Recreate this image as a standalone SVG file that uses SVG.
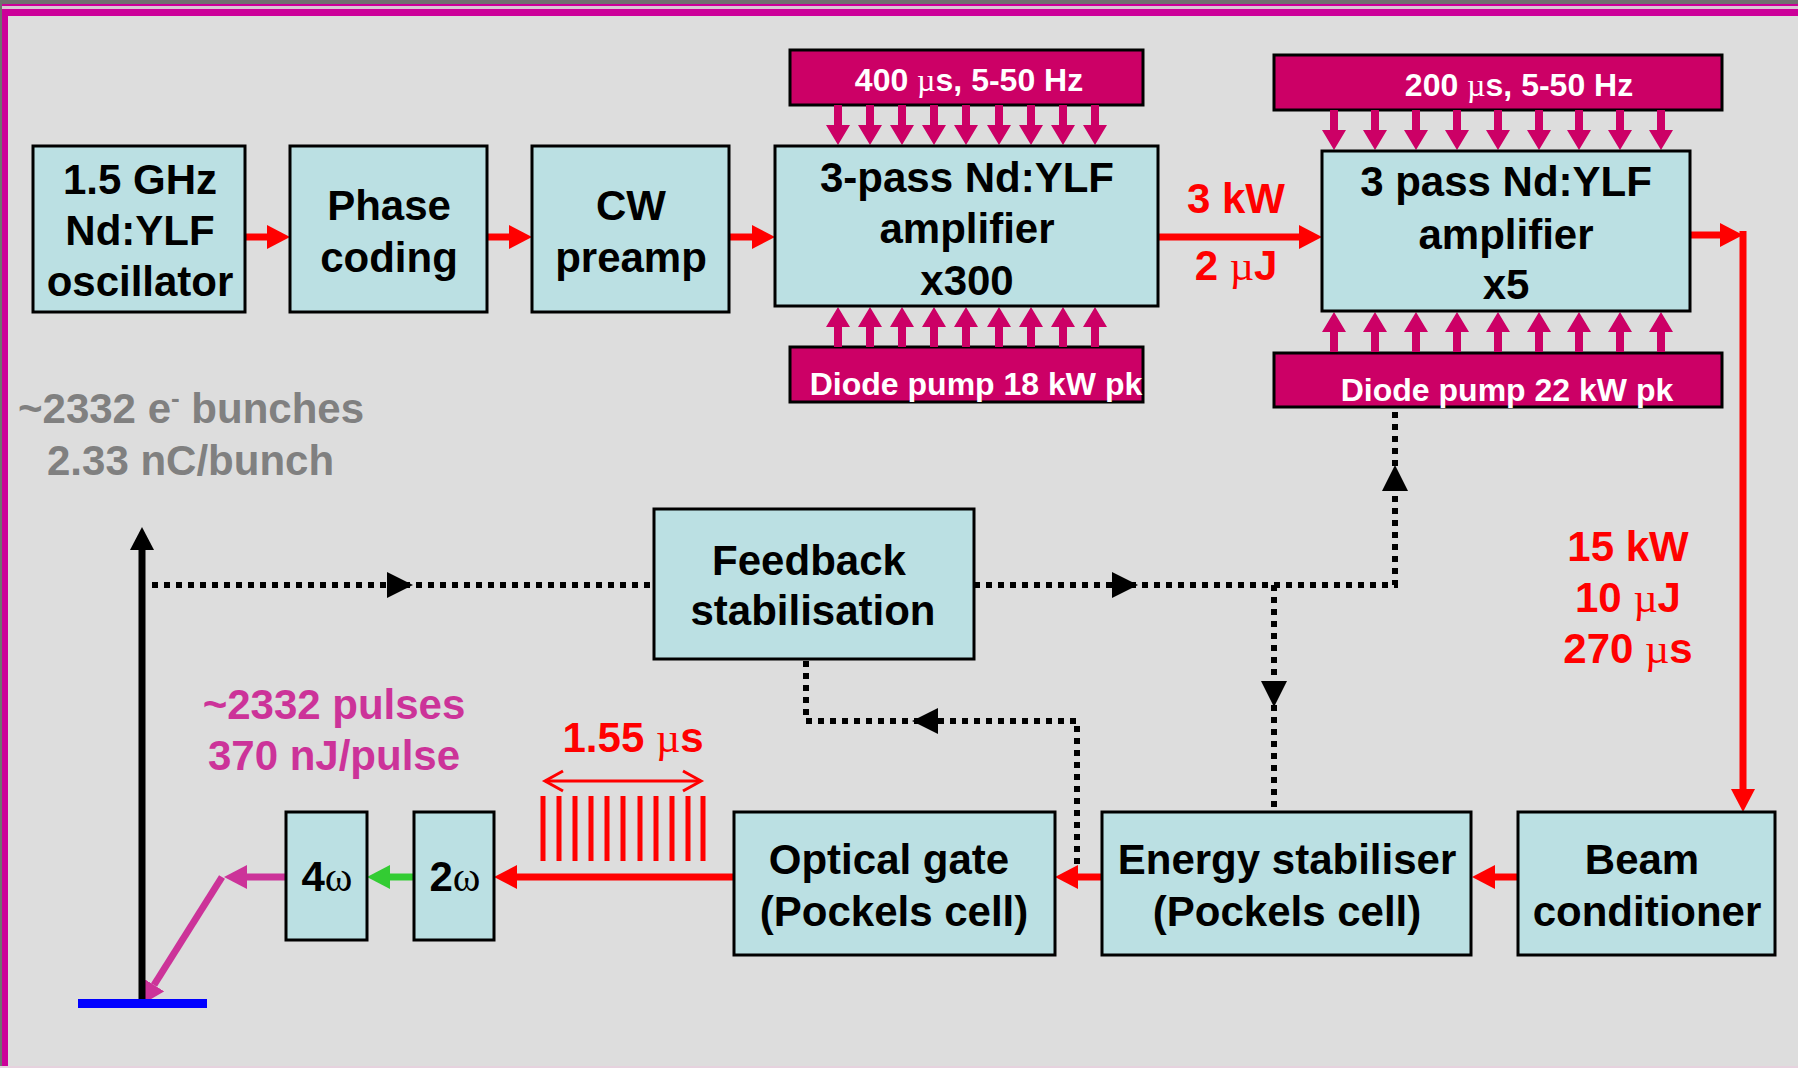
<svg xmlns="http://www.w3.org/2000/svg" width="1798" height="1068" viewBox="0 0 1798 1068">
<style>
.box{fill:#BBE0E3;stroke:#000;stroke-width:3}
.pump{fill:#CC0066;stroke:#000;stroke-width:3}
.t{font-family:"Liberation Sans",Arial,sans-serif;font-weight:bold;font-size:42px;text-anchor:middle;fill:#000}
.w{font-family:"Liberation Sans",Arial,sans-serif;font-weight:bold;font-size:32px;text-anchor:middle;fill:#fff}
.r{font-family:"Liberation Sans",Arial,sans-serif;font-weight:bold;font-size:42px;text-anchor:middle;fill:#FF0000}
.g{font-family:"Liberation Sans",Arial,sans-serif;font-weight:bold;font-size:42px;fill:#808080}
.m{font-family:"Liberation Sans",Arial,sans-serif;font-weight:bold;font-size:42px;text-anchor:middle;fill:#CC3399}
.sym{font-family:"Liberation Serif","Times New Roman",serif;font-weight:normal}
.red{stroke:#FF0000;stroke-width:7;fill:none}
.dot{stroke:#000;stroke-width:6;stroke-dasharray:6 6;fill:none}
.pa{fill:#CC0066}
</style>
<defs>
<marker id="ahr" markerUnits="userSpaceOnUse" viewBox="0 -12 23 24" markerWidth="23" markerHeight="24" refX="0" refY="0" orient="auto"><path d="M0,-12 L23,0 L0,12 Z" fill="#FF0000"/></marker>
<marker id="ahg" markerUnits="userSpaceOnUse" viewBox="0 -12 23 24" markerWidth="23" markerHeight="24" refX="0" refY="0" orient="auto"><path d="M0,-12 L23,0 L0,12 Z" fill="#33CC33"/></marker>
<marker id="ahm" markerUnits="userSpaceOnUse" viewBox="0 -12 23 24" markerWidth="23" markerHeight="24" refX="0" refY="0" orient="auto"><path d="M0,-12 L23,0 L0,12 Z" fill="#CC3399"/></marker>
<marker id="ahk" markerUnits="userSpaceOnUse" viewBox="0 -12 23 24" markerWidth="23" markerHeight="24" refX="0" refY="0" orient="auto"><path d="M0,-12 L23,0 L0,12 Z" fill="#000"/></marker>
<path id="pd" class="pa" d="M-4,0 V20 H-12 L0,40 L12,20 H4 V0 Z"/>
<path id="pu" class="pa" d="M-4,40 V20 H-12 L0,0 L12,20 H4 V40 Z"/>
</defs>

<!-- background and frame -->
<rect x="0" y="0" width="1798" height="1068" fill="#DDDDDD"/>
<rect x="0" y="0" width="1798" height="4" fill="#707070"/>
<rect x="0" y="4" width="1798" height="2" fill="#CC0099"/>
<rect x="0" y="6" width="1798" height="3" fill="#D8C8D4"/>
<rect x="0" y="9" width="1798" height="7" fill="#CC0099"/>
<rect x="0" y="0" width="2" height="1068" fill="#707070"/>
<rect x="2" y="9" width="6" height="1059" fill="#CC0099"/>
<rect x="0" y="1066" width="1798" height="2" fill="#E6D2DE"/>

<!-- connectors -->
<g id="connectors">
  <line class="red" x1="245" y1="237" x2="267" y2="237" marker-end="url(#ahr)"/>
  <line class="red" x1="487" y1="237" x2="509" y2="237" marker-end="url(#ahr)"/>
  <line class="red" x1="729" y1="237" x2="752" y2="237" marker-end="url(#ahr)"/>
  <line class="red" x1="1158" y1="237" x2="1299" y2="237" marker-end="url(#ahr)"/>
  <line class="red" x1="1690" y1="235" x2="1720" y2="235" marker-end="url(#ahr)"/>
  <line class="red" x1="1743" y1="231" x2="1743" y2="789" marker-end="url(#ahr)"/>
  <line class="red" x1="1518" y1="877" x2="1495" y2="877" marker-end="url(#ahr)"/>
  <line class="red" x1="1102" y1="877" x2="1078" y2="877" marker-end="url(#ahr)"/>
  <line class="red" x1="734" y1="877" x2="517" y2="877" marker-end="url(#ahr)"/>
  <line stroke="#33CC33" stroke-width="7" x1="414" y1="877" x2="390" y2="877" marker-end="url(#ahg)"/>
  <line stroke="#CC3399" stroke-width="7" x1="286" y1="877" x2="247" y2="877" marker-end="url(#ahm)"/>
  <line stroke="#CC3399" stroke-width="7" x1="222" y1="877" x2="154" y2="985" marker-end="url(#ahm)"/>
  <line stroke="#000" stroke-width="7" x1="142" y1="1006" x2="142" y2="550" marker-end="url(#ahk)"/>
  <rect x="78" y="999" width="129" height="9" fill="#0000FF"/>

  <!-- pulse train -->
  <g stroke="#FF0000" stroke-width="5">
    <line x1="543" y1="796" x2="543" y2="861"/>
    <line x1="559" y1="796" x2="559" y2="861"/>
    <line x1="575" y1="796" x2="575" y2="861"/>
    <line x1="591" y1="796" x2="591" y2="861"/>
    <line x1="607" y1="796" x2="607" y2="861"/>
    <line x1="623" y1="796" x2="623" y2="861"/>
    <line x1="640" y1="796" x2="640" y2="861"/>
    <line x1="656" y1="796" x2="656" y2="861"/>
    <line x1="672" y1="796" x2="672" y2="861"/>
    <line x1="688" y1="796" x2="688" y2="861"/>
    <line x1="703" y1="796" x2="703" y2="861"/>
  </g>
  <g stroke="#FF0000" stroke-width="3" fill="none">
    <line x1="545" y1="781" x2="701" y2="781"/>
    <polyline points="563,771 545,781 563,791"/>
    <polyline points="683,771 701,781 683,791"/>
  </g>

  <!-- dotted feedback lines -->
  <path class="dot" d="M152,585 H654"/>
  <polygon points="387,572 413,585 387,598" fill="#000"/>
  <path class="dot" d="M974,585 H1395 V407"/>
  <polygon points="1112,572 1138,585 1112,598" fill="#000"/>
  <polygon points="1382,491 1395,465 1408,491" fill="#000"/>
  <path class="dot" d="M1274,585 V812"/>
  <polygon points="1261,681 1274,707 1287,681" fill="#000"/>
  <path class="dot" d="M806,661 V721 H1077 V866"/>
  <polygon points="938,708 912,721 938,734" fill="#000"/>
</g>

<!-- pump bars -->
<g id="pump1-top">
  <rect class="pump" x="790" y="50" width="353" height="55"/>
  <text class="w" x="969" y="91">400 <tspan class="sym">µ</tspan>s, 5-50 Hz</text>
  <use href="#pd" x="838" y="105"/><use href="#pd" x="870" y="105"/><use href="#pd" x="902" y="105"/>
  <use href="#pd" x="934" y="105"/><use href="#pd" x="966" y="105"/><use href="#pd" x="999" y="105"/>
  <use href="#pd" x="1031" y="105"/><use href="#pd" x="1063" y="105"/><use href="#pd" x="1095" y="105"/>
</g>
<g id="pump1-bottom">
  <rect class="pump" x="790" y="347" width="353" height="55"/>
  <text class="w" x="976" y="395">Diode pump 18 kW pk</text>
  <use href="#pu" x="838" y="307"/><use href="#pu" x="870" y="307"/><use href="#pu" x="902" y="307"/>
  <use href="#pu" x="934" y="307"/><use href="#pu" x="966" y="307"/><use href="#pu" x="999" y="307"/>
  <use href="#pu" x="1031" y="307"/><use href="#pu" x="1063" y="307"/><use href="#pu" x="1095" y="307"/>
</g>
<g id="pump2-top">
  <rect class="pump" x="1274" y="55" width="448" height="55"/>
  <text class="w" x="1519" y="96">200 <tspan class="sym">µ</tspan>s, 5-50 Hz</text>
  <use href="#pd" x="1334" y="110"/><use href="#pd" x="1375" y="110"/><use href="#pd" x="1416" y="110"/>
  <use href="#pd" x="1457" y="110"/><use href="#pd" x="1498" y="110"/><use href="#pd" x="1539" y="110"/>
  <use href="#pd" x="1579" y="110"/><use href="#pd" x="1620" y="110"/><use href="#pd" x="1661" y="110"/>
</g>
<g id="pump2-bottom">
  <rect class="pump" x="1274" y="353" width="448" height="54"/>
  <text class="w" x="1507" y="401">Diode pump 22 kW pk</text>
  <use href="#pu" x="1334" y="312"/><use href="#pu" x="1375" y="312"/><use href="#pu" x="1416" y="312"/>
  <use href="#pu" x="1457" y="312"/><use href="#pu" x="1498" y="312"/><use href="#pu" x="1539" y="312"/>
  <use href="#pu" x="1579" y="312"/><use href="#pu" x="1620" y="312"/><use href="#pu" x="1661" y="312"/>
</g>

<!-- nodes -->
<g id="oscillator">
  <rect class="box" x="33" y="146" width="212" height="166"/>
  <text class="t" x="140" y="194">1.5 GHz</text>
  <text class="t" x="140" y="245">Nd:YLF</text>
  <text class="t" x="140" y="296">oscillator</text>
</g>
<g id="phase-coding">
  <rect class="box" x="290" y="146" width="197" height="166"/>
  <text class="t" x="389" y="220">Phase</text>
  <text class="t" x="389" y="272">coding</text>
</g>
<g id="cw-preamp">
  <rect class="box" x="532" y="146" width="197" height="166"/>
  <text class="t" x="631" y="220">CW</text>
  <text class="t" x="631" y="272">preamp</text>
</g>
<g id="amp1">
  <rect class="box" x="775" y="146" width="383" height="160"/>
  <text class="t" x="967" y="192">3-pass Nd:YLF</text>
  <text class="t" x="967" y="243">amplifier</text>
  <text class="t" x="967" y="295">x300</text>
</g>
<g id="amp2">
  <rect class="box" x="1322" y="151" width="368" height="160"/>
  <text class="t" x="1506" y="196">3 pass Nd:YLF</text>
  <text class="t" x="1506" y="249">amplifier</text>
  <text class="t" x="1506" y="299">x5</text>
</g>
<g id="feedback">
  <rect class="box" x="654" y="509" width="320" height="150"/>
  <text class="t" x="809" y="575">Feedback</text>
  <text class="t" x="813" y="625">stabilisation</text>
</g>
<g id="optical-gate">
  <rect class="box" x="734" y="812" width="321" height="143"/>
  <text class="t" x="889" y="874">Optical gate</text>
  <text class="t" x="894" y="926">(Pockels cell)</text>
</g>
<g id="energy-stabiliser">
  <rect class="box" x="1102" y="812" width="369" height="143"/>
  <text class="t" x="1287" y="874">Energy stabiliser</text>
  <text class="t" x="1287" y="926">(Pockels cell)</text>
</g>
<g id="beam-conditioner">
  <rect class="box" x="1518" y="812" width="257" height="143"/>
  <text class="t" x="1642" y="874">Beam</text>
  <text class="t" x="1647" y="926">conditioner</text>
</g>
<g id="shg">
  <rect class="box" x="414" y="812" width="80" height="128"/>
  <text class="t" x="455" y="891">2<tspan class="sym" font-weight="bold">ω</tspan></text>
</g>
<g id="fhg">
  <rect class="box" x="286" y="812" width="81" height="128"/>
  <text class="t" x="327" y="891">4<tspan class="sym" font-weight="bold">ω</tspan></text>
</g>

<!-- labels -->
<g id="labels">
  <text class="r" x="1236" y="213">3 kW</text>
  <text class="r" x="1236" y="280">2 <tspan class="sym">µ</tspan>J</text>
  <text class="r" x="1628" y="561">15 kW</text>
  <text class="r" x="1628" y="612">10 <tspan class="sym">µ</tspan>J</text>
  <text class="r" x="1628" y="663">270 <tspan class="sym">µ</tspan>s</text>
  <text class="r" x="633" y="752" font-size="40">1.55 <tspan class="sym">µ</tspan>s</text>
  <text class="g" x="18" y="423">~2332 e<tspan font-size="26" dy="-16">-</tspan><tspan dy="16"> bunches</tspan></text>
  <text class="g" x="47" y="475">2.33 nC/bunch</text>
  <text class="m" x="334" y="719">~2332 pulses</text>
  <text class="m" x="334" y="770">370 nJ/pulse</text>
</g>
</svg>
